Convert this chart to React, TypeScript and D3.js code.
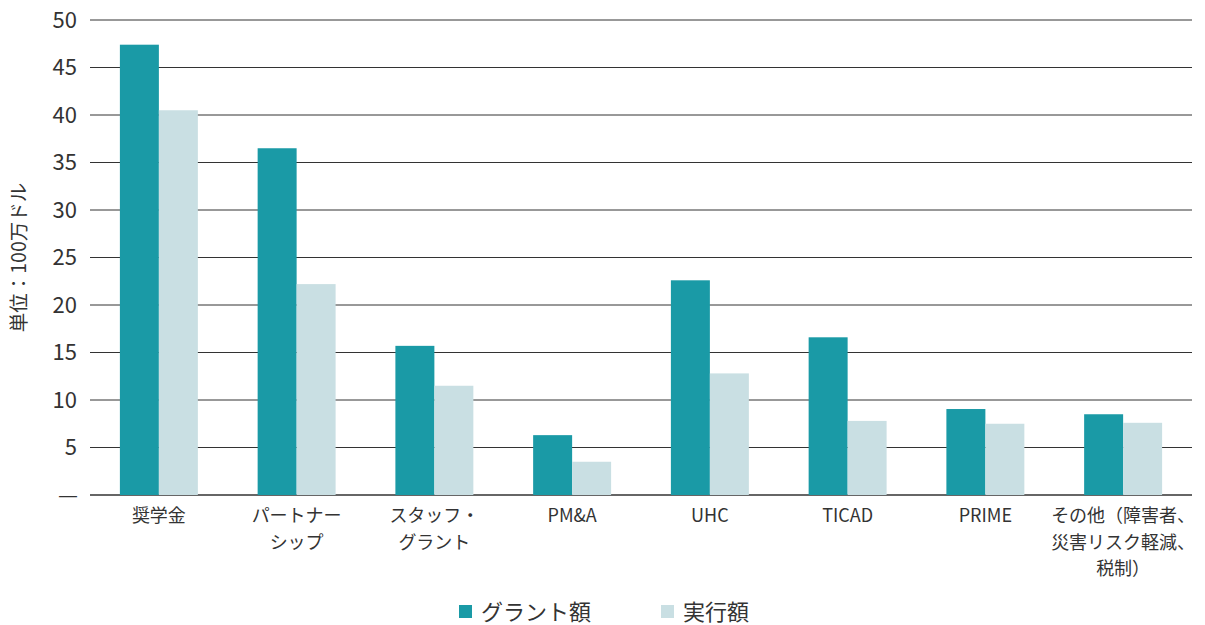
import React from 'react';
import * as d3 from 'd3';

const categories = [
  ['奨学金'],
  ['パートナー', 'シップ'],
  ['スタッフ・', 'グラント'],
  ['PM&A'],
  ['UHC'],
  ['TICAD'],
  ['PRIME'],
  ['その他（障害者、', '災害リスク軽減、', '税制）'],
];
const grantValues = [47.4, 36.5, 15.7, 6.3, 22.6, 16.6, 9.05, 8.5];
const executedValues = [40.5, 22.2, 11.5, 3.5, 12.8, 7.8, 7.5, 7.6];
const yTicks = [0, 5, 10, 15, 20, 25, 30, 35, 40, 45, 50];
const seriesNames = ['グラント額', '実行額'];

const W = 1205;
const H = 625;
const margin = { left: 90, right: 13, top: 20, bottom: 130 };
const colors = ['#1A9AA6', '#C9DFE3'];
const font = '"Noto Sans CJK JP", "Noto Sans", sans-serif';

export default function App() {
  const x = d3
    .scaleBand<number>()
    .domain(d3.range(categories.length))
    .range([margin.left, W - margin.right])
    .paddingInner(0.434)
    .paddingOuter(0.217);
  const y = d3.scaleLinear().domain([0, 50]).range([H - margin.bottom, margin.top]);
  const bw = x.bandwidth() / 2;

  return (
    <svg
      width={W}
      height={H}
      style={{ position: 'absolute', left: 0, top: 0, background: '#fff', fontFamily: font }}
    >
      {/* gridlines */}
      {yTicks.map((t) => (
        <line
          key={t}
          x1={margin.left}
          x2={W - margin.right}
          y1={y(t)}
          y2={y(t)}
          stroke="#333"
          strokeWidth={t === 0 ? 1.5 : 1}
        />
      ))}
      {/* tick labels */}
      {yTicks.map((t) => (
        <text
          key={'l' + t}
          x={77}
          y={y(t)}
          dy="0.36em"
          textAnchor="end"
          fontSize={t === 0 ? 18 : 22}
          fontFamily={t === 0 ? '"Liberation Sans", sans-serif' : undefined}
          fill="#333"
        >
          {t === 0 ? '—' : t}
        </text>
      ))}
      <text
        transform={`translate(26, ${y(25)}) rotate(-90)`}
        textAnchor="middle"
        fontSize={19.5}
        fill="#333"
      >
        単位：100万ドル
      </text>
      {/* bars */}
      {categories.map((c, i) => (
        <g key={'b' + i}>
          <rect
            x={x(i)!}
            y={y(grantValues[i])}
            width={bw}
            height={y(0) - y(grantValues[i])}
            fill={colors[0]}
          />
          <rect
            x={x(i)! + bw}
            y={y(executedValues[i])}
            width={bw}
            height={y(0) - y(executedValues[i])}
            fill={colors[1]}
          />
        </g>
      ))}
      {/* x labels */}
      {categories.map((lines, i) =>
        lines.map((ln, j) => (
          <text
            key={'x' + i + '-' + j}
            x={x(i)! + x.bandwidth() / 2}
            y={522 + j * 26.5}
            textAnchor="middle"
            fontSize={18}
            fill="#333"
          >
            {ln}
          </text>
        ))
      )}
      {/* legend */}
      <rect x={459} y={605} width={13} height={13} fill={colors[0]} />
      <text x={481} y={620} fontSize={22} fill="#333">
        {seriesNames[0]}
      </text>
      <rect x={661} y={605} width={13} height={13} fill={colors[1]} />
      <text x={683} y={620} fontSize={22} fill="#333">
        {seriesNames[1]}
      </text>
    </svg>
  );
}
